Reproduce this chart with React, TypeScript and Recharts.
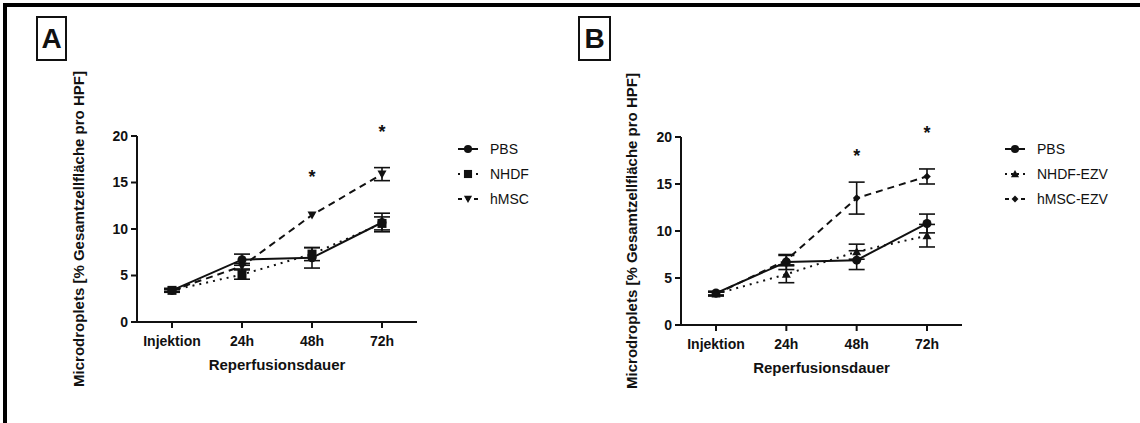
import React from 'react';
import { LineChart, Line, XAxis, YAxis, ErrorBar, ReferenceDot, Legend } from 'recharts';

const categories = ['Injektion', '24h', '48h', '72h'];
const yTicks = [0, 5, 10, 15, 20];

// Panel A
const pbsA = [3.4, 6.7, 6.9, 10.7];
const pbsAErr = [0.2, 0.6, 1.1, 1.0];
const nhdfA = [3.4, 5.1, 7.3, 10.6];
const nhdfAErr = [0.2, 0.5, 0.7, 0.7];
const hmscA = [3.4, 6.0, 11.5, 15.9];
const hmscAErr = [0.1, 0.3, 0, 0.7];
const starsA = [null, null, 16.1, 21.0];

// Panel B
const pbsB = [3.4, 6.7, 6.9, 10.8];
const pbsBErr = [0.2, 0.8, 1.0, 1.0];
const nhdfB = [3.3, 5.4, 7.8, 9.5];
const nhdfBErr = [0.2, 0.9, 0.8, 1.2];
const hmscB = [3.3, 6.9, 13.5, 15.8];
const hmscBErr = [0.2, 0.5, 1.7, 0.8];
const starsB = [null, null, 18.5, 20.9];

const namesA = ['PBS', 'NHDF', 'hMSC'];
const namesB = ['PBS', 'NHDF-EZV', 'hMSC-EZV'];

const yTitle = 'Microdroplets [% Gesamtzellfläche pro HPF]';
const xTitle = 'Reperfusionsdauer';

const FONT = '"Liberation Sans", Arial, sans-serif';
const INK = '#111';

const buildData = (p: number[], pe: number[], n: number[], ne: number[], h: number[], he: number[]) =>
  categories.map((c, i) => ({ cat: c, pbs: p[i], pbsErr: pe[i], nhdf: n[i], nhdfErr: ne[i], hmsc: h[i], hmscErr: he[i] }));

const dataA = buildData(pbsA, pbsAErr, nhdfA, nhdfAErr, hmscA, hmscAErr);
const dataB = buildData(pbsB, pbsBErr, nhdfB, nhdfBErr, hmscB, hmscBErr);

type Shape = 'circle' | 'square' | 'triDown' | 'triUp' | 'diamond';

const drawMarker = (shape: Shape, cx: number, cy: number, s: number, key?: any) => {
  switch (shape) {
    case 'circle':
      return <circle key={key} cx={cx} cy={cy} r={s} fill={INK} />;
    case 'square':
      return <rect key={key} x={cx - s} y={cy - s} width={2 * s} height={2 * s} fill={INK} />;
    case 'triDown':
      return <polygon key={key} points={`${cx - s},${cy - s * 0.8} ${cx + s},${cy - s * 0.8} ${cx},${cy + s}`} fill={INK} />;
    case 'triUp':
      return <polygon key={key} points={`${cx - s},${cy + s * 0.8} ${cx + s},${cy + s * 0.8} ${cx},${cy - s}`} fill={INK} />;
    case 'diamond':
      return <polygon key={key} points={`${cx},${cy - s} ${cx + s},${cy} ${cx},${cy + s} ${cx - s},${cy}`} fill={INK} />;
  }
  return null;
};

const makeDot = (shape: Shape, s: number) => (props: any) => {
  const { cx, cy, key, index } = props;
  if (cx == null || cy == null) return <g key={key ?? index} />;
  return drawMarker(shape, cx, cy, s, key ?? index);
};

type SeriesCfg = { key: string; dash?: string; shape: Shape; size: number };
const styleA: SeriesCfg[] = [
  { key: 'pbs', shape: 'circle', size: 4.5 },
  { key: 'nhdf', dash: '2 5', shape: 'square', size: 4.5 },
  { key: 'hmsc', dash: '7 5', shape: 'triDown', size: 4.5 },
];
const styleB: SeriesCfg[] = [
  { key: 'pbs', shape: 'circle', size: 4.5 },
  { key: 'nhdf', dash: '2 5', shape: 'triUp', size: 4.5 },
  { key: 'hmsc', dash: '7 5', shape: 'diamond', size: 3.8 },
];

const makeLegend = (names: string[], styles: SeriesCfg[]) => () => (
  <svg width={140} height={80} style={{ display: 'block' }}>
    {names.map((nm, i) => {
      const cy = 12 + i * 25;
      const st = styles[i];
      return (
        <g key={nm}>
          <line x1={6} x2={26} y1={cy} y2={cy} stroke={INK} strokeWidth={2} strokeDasharray={st.dash ? (st.dash === '2 5' ? '2 4' : '4 4') : undefined} />
          {drawMarker(st.shape, 16, cy, st.size * 0.9)}
          <text x={38} y={cy} dy="0.36em" fontFamily={FONT} fontSize={14} fill={INK}>{nm}</text>
        </g>
      );
    })}
  </svg>
);

const starLabel = (props: any) => {
  const { viewBox } = props;
  if (!viewBox) return null;
  const fs = 18;
  return (
    <text x={viewBox.x} y={viewBox.y + fs * 0.6} textAnchor="middle" fontFamily={FONT} fontWeight={700} fontSize={fs} fill={INK}>*</text>
  );
};

const yTitleLabel = (dx: number) => (props: any) => {
  const { viewBox } = props;
  if (!viewBox) return null;
  const cx = viewBox.x + dx;
  const cy = viewBox.y + viewBox.height / 2;
  return (
    <text x={cx} y={cy} transform={`rotate(-90 ${cx} ${cy})`} textAnchor="middle" dy="0.36em" fontFamily={FONT} fontWeight={700} fontSize={15} fill={INK}>{yTitle}</text>
  );
};

const xTitleLabel = (dy: number) => (props: any) => {
  const { viewBox } = props;
  if (!viewBox) return null;
  const cx = viewBox.x + viewBox.width / 2;
  const cy = viewBox.y + dy;
  return (
    <text x={cx} y={cy} textAnchor="middle" dy="0.36em" fontFamily={FONT} fontWeight={700} fontSize={15} fill={INK}>{xTitle}</text>
  );
};

type PanelProps = {
  data: any[];
  styles: SeriesCfg[];
  names: string[];
  stars: (number | null)[];
  width: number;
  margin: { top: number; right: number; bottom: number; left: number };
  pad: number;
  yTitleDx: number;
  legendPos: { left: number; top: number };
};

const Panel = ({ data, styles, names, stars, width, margin, pad, yTitleDx, legendPos }: PanelProps) => (
  <LineChart width={width} height={423} data={data} margin={margin}>
    <XAxis
      dataKey="cat"
      padding={{ left: pad, right: pad }}
      axisLine={{ stroke: INK, strokeWidth: 2 }}
      tickLine={{ stroke: INK, strokeWidth: 2 }}
      tickSize={6}
      tickMargin={8}
      height={60}
      tick={{ fontSize: 14, fontWeight: 700, fill: INK, fontFamily: FONT }}
      label={xTitleLabel(43)}
    />
    <YAxis
      domain={[0, 20]}
      ticks={yTicks}
      allowDataOverflow
      width={70}
      axisLine={{ stroke: INK, strokeWidth: 2 }}
      tickLine={{ stroke: INK, strokeWidth: 2 }}
      tickSize={6}
      tickMargin={3}
      tick={{ fontSize: 14, fontWeight: 700, fill: INK, fontFamily: FONT }}
      label={yTitleLabel(yTitleDx)}
    />
    {styles.map((st, i) => (
      <Line
        key={st.key}
        dataKey={st.key}
        name={names[i]}
        stroke={INK}
        strokeWidth={2}
        strokeDasharray={st.dash}
        dot={makeDot(st.shape, st.size)}
        activeDot={false}
        isAnimationActive={false}
      >
        <ErrorBar dataKey={`${st.key}Err`} width={8} stroke={INK} strokeWidth={1.6} direction="y" />
      </Line>
    ))}
    {stars.map((s, i) =>
      s == null ? null : (
        <ReferenceDot key={`star${i}`} x={categories[i]} y={s} r={0} fill="none" stroke="none" ifOverflow="visible" label={starLabel} />
      )
    )}
    <Legend
      layout="vertical"
      align="center"
      verticalAlign="middle"
      content={makeLegend(names, styles)}
      wrapperStyle={{ left: legendPos.left, top: legendPos.top, width: 140, height: 80 }}
    />
  </LineChart>
);

const PanelLetter = ({ letter, left, width }: { letter: string; left: number; width: number }) => (
  <div
    style={{
      position: 'absolute',
      left,
      top: 16,
      width,
      height: 45,
      boxSizing: 'border-box',
      border: '2px solid #111',
      fontFamily: FONT,
      fontWeight: 700,
      fontSize: 28,
      lineHeight: '41px',
      textAlign: 'center',
      color: INK,
      background: '#fff',
    }}
  >
    {letter}
  </div>
);

export default function App() {
  return (
    <div style={{ position: 'fixed', left: 0, top: 0, width: 1140, height: 423, background: '#fff', overflow: 'hidden' }}>
      <div style={{ position: 'absolute', left: 3, top: 3, width: 1140, height: 430, borderTop: '4px solid #000', borderLeft: '4px solid #000', boxSizing: 'border-box' }} />
      <div style={{ position: 'absolute', left: 0, top: 0 }}>
        <Panel
          data={dataA}
          styles={styleA}
          names={namesA}
          stars={starsA}
          width={560}
          margin={{ top: 136, right: 143, bottom: 41, left: 67 }}
          pad={35}
          yTitleDx={12}
          legendPos={{ left: 452, top: 137 }}
        />
      </div>
      <div style={{ position: 'absolute', left: 560, top: 0 }}>
        <Panel
          data={dataB}
          styles={styleB}
          names={namesB}
          stars={starsB}
          width={580}
          margin={{ top: 137, right: 178, bottom: 38, left: 51 }}
          pad={35}
          yTitleDx={21}
          legendPos={{ left: 439, top: 137 }}
        />
      </div>
      <PanelLetter letter="A" left={36} width={31} />
      <PanelLetter letter="B" left={578} width={33} />
    </div>
  );
}
